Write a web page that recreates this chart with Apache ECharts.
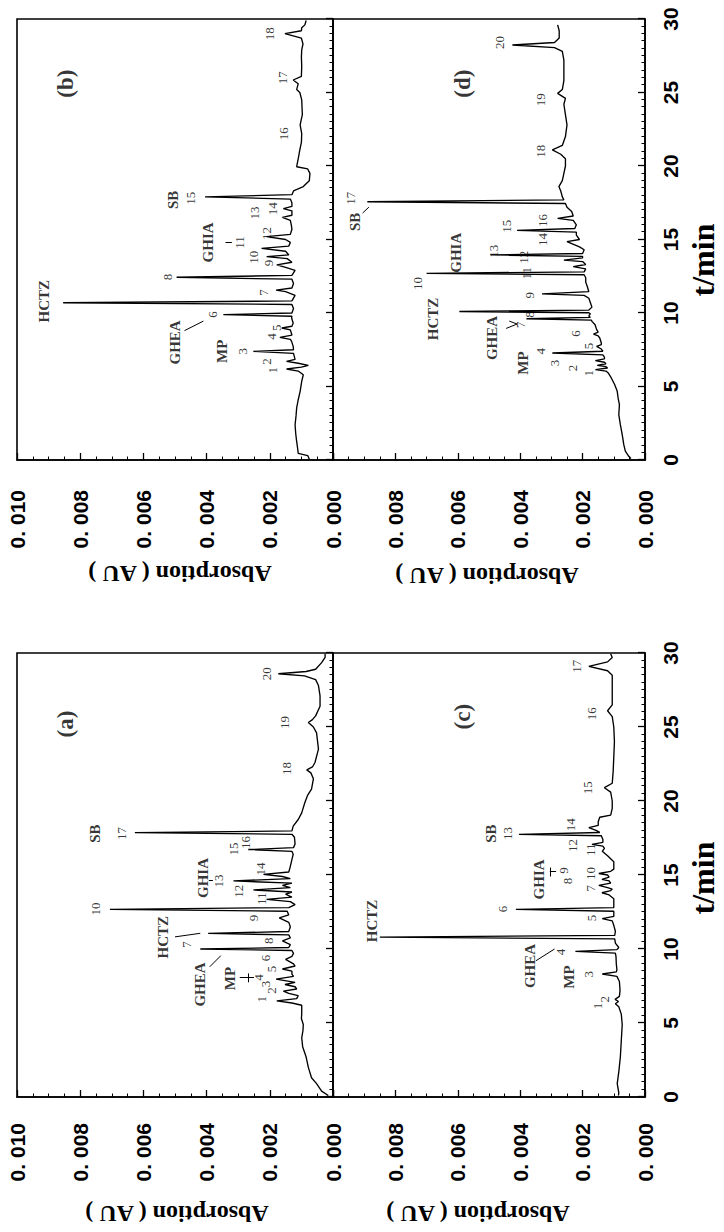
<!DOCTYPE html>
<html><head><meta charset="utf-8">
<script src="https://cdn.jsdelivr.net/npm/echarts@6/dist/echarts.min.js"></script>
<style>
html,body{margin:0;padding:0;background:#fff;overflow:hidden;width:724px;height:1232px;}
#chart{position:absolute;left:0;top:0;width:1232px;height:724px;transform-origin:0 0;transform:translate(0px,1232px) rotate(-90deg);}
</style></head><body><div id="chart"></div>
<script>
// ---------- tick labels ----------
const valueTickLabels = ['0. 000','0. 002','0. 004','0. 006','0. 008','0. 010'];
const timeTickLabels = ['0','5','10','15','20','25','30'];

// ---------- traces: [time (min), absorption (x 0.001 AU)] ----------
const traceA = [[0.1,0.15],[0.4,0.36],[0.9,0.52],[1.3,0.68],[2.0,0.78],[2.7,0.85],[3.4,0.96],[4.0,0.99],[4.5,0.95],[4.9,0.94],[5.3,1.0],[5.6,0.99],[6.2,0.99],[6.35,1.3],[6.5,1.78],[6.65,1.15],[6.85,1.1],[7.0,1.4],[7.15,1.57],[7.3,1.15],[7.45,1.2],[7.6,1.52],[7.75,1.2],[7.97,1.8],[8.15,1.25],[8.3,1.3],[8.5,1.3],[8.65,1.6],[8.85,1.2],[9.0,1.25],[9.3,1.5],[9.5,1.3],[9.7,1.25],[9.9,1.3],[10.0,4.2],[10.1,1.4],[10.3,1.35],[10.55,1.6],[10.75,1.35],[10.95,1.4],[11.06,3.95],[11.18,1.4],[11.5,1.35],[11.8,1.4],[12.1,1.7],[12.3,1.4],[12.55,1.45],[12.68,7.06],[12.8,1.4],[13.0,1.2],[13.2,1.35],[13.35,2.1],[13.5,1.3],[13.7,1.5],[13.85,1.3],[13.99,2.52],[14.15,1.35],[14.3,1.6],[14.45,1.3],[14.6,3.15],[14.75,1.35],[14.9,1.6],[15.04,2.2],[15.2,1.4],[15.5,1.36],[15.95,1.31],[16.4,1.26],[16.6,1.3],[16.72,2.68],[16.85,1.25],[17.1,1.2],[17.55,1.22],[17.75,1.3],[17.86,6.27],[17.98,1.3],[18.3,1.26],[18.75,1.1],[19.2,0.99],[19.9,0.89],[20.4,0.8],[20.8,0.68],[21.5,0.62],[21.9,0.7],[22.1,0.83],[22.3,0.65],[22.6,0.57],[23.5,0.46],[24.6,0.52],[25.0,0.62],[25.3,0.78],[25.5,0.65],[25.75,0.55],[26.4,0.41],[27.1,0.41],[27.8,0.46],[28.2,0.55],[28.45,0.9],[28.6,1.73],[28.75,0.85],[28.9,0.55],[29.35,0.36],[29.7,0.25],[29.95,0.25]];

const traceB = [[0.05,0.75],[0.3,0.8],[0.45,1.1],[0.8,1.12],[1.27,1.15],[1.8,1.18],[2.4,1.2],[3.0,1.17],[3.54,1.15],[4.1,1.1],[4.67,1.04],[5.35,0.99],[5.8,0.94],[6.05,1.1],[6.19,1.47],[6.32,1.0],[6.44,0.78],[6.58,1.1],[6.71,1.47],[6.85,1.2],[7.25,1.25],[7.39,2.52],[7.5,1.25],[7.73,1.26],[8.07,1.31],[8.2,1.35],[8.34,1.68],[8.5,1.3],[8.85,1.35],[8.98,1.62],[9.1,1.3],[9.32,1.26],[9.66,1.31],[9.78,1.3],[9.89,3.47],[10.0,1.3],[10.3,1.25],[10.58,1.3],[10.7,8.54],[10.82,1.3],[11.2,1.2],[11.45,1.5],[11.56,1.8],[11.7,1.3],[12.0,1.25],[12.3,1.3],[12.43,4.95],[12.56,1.3],[12.9,1.2],[13.1,1.5],[13.27,1.78],[13.45,1.3],[13.7,1.45],[13.83,2.1],[13.95,1.4],[14.2,1.5],[14.4,2.26],[14.55,1.4],[14.8,1.35],[15.0,1.5],[15.2,2.1],[15.35,1.35],[15.7,1.3],[16.0,1.32],[16.3,1.35],[16.5,1.6],[16.65,1.3],[16.95,1.3],[17.1,1.57],[17.25,1.3],[17.5,1.3],[17.75,1.35],[17.9,4.05],[18.05,1.3],[18.3,1.25],[18.6,0.94],[19.0,0.75],[19.5,0.73],[19.8,0.8],[19.95,1.15],[20.5,1.1],[21.1,1.05],[21.6,1.0],[22.2,0.99],[22.8,1.04],[23.5,0.97],[24.0,0.98],[24.5,0.99],[25.0,1.05],[25.2,1.15],[25.6,1.1],[25.85,1.26],[26.1,1.0],[26.8,0.99],[27.4,1.0],[27.9,0.99],[28.3,0.95],[28.7,1.0],[29.0,1.52],[29.2,1.0],[29.4,0.99],[29.6,0.89],[29.9,0.85]];

const traceC = [[0.1,0.85],[0.3,0.84],[0.9,0.89],[1.7,0.84],[2.7,0.79],[3.8,0.76],[4.9,0.73],[5.6,0.76],[6.1,0.84],[6.3,0.95],[6.45,0.85],[6.6,0.96],[6.8,0.82],[7.2,0.8],[7.8,0.82],[8.15,0.9],[8.31,1.37],[8.45,0.92],[8.6,0.9],[9.0,0.92],[9.5,0.93],[9.72,0.95],[9.84,2.23],[9.96,0.9],[10.1,0.84],[10.4,0.95],[10.68,0.97],[10.8,8.5],[10.92,0.97],[11.2,0.95],[11.6,1.0],[11.9,1.05],[12.05,1.37],[12.2,1.0],[12.55,1.0],[12.68,4.14],[12.8,1.0],[13.1,1.0],[13.4,1.0],[13.65,1.15],[13.8,1.38],[13.95,1.1],[14.05,1.05],[14.15,1.2],[14.3,1.48],[14.45,1.1],[14.6,1.15],[14.7,1.38],[14.85,1.15],[15.0,1.2],[15.1,1.48],[15.25,1.1],[15.4,1.0],[15.9,1.0],[16.3,1.2],[16.6,1.37],[16.8,1.3],[16.95,1.35],[17.07,1.7],[17.2,1.35],[17.4,1.35],[17.65,1.4],[17.75,4.04],[17.87,1.45],[18.0,1.55],[18.2,1.8],[18.35,1.5],[18.6,1.5],[18.9,1.45],[19.05,1.1],[19.5,1.05],[20.0,1.05],[20.6,1.1],[20.9,1.3],[21.2,1.05],[22.0,1.02],[23.0,1.0],[24.0,0.98],[25.0,1.0],[25.7,1.05],[26.1,1.2],[26.5,1.05],[27.5,1.05],[28.5,1.05],[28.8,1.2],[29.1,1.8],[29.4,1.2],[29.7,1.05],[29.95,1.1]];

const traceD = [[0.1,0.45],[0.25,0.52],[0.6,0.63],[1.04,0.68],[1.72,0.73],[2.4,0.79],[3.08,0.84],[3.76,0.82],[4.2,0.86],[4.67,0.89],[5.12,0.97],[5.58,1.08],[5.92,1.18],[6.05,1.25],[6.15,1.59],[6.26,1.2],[6.35,1.25],[6.44,1.53],[6.55,1.25],[6.65,1.3],[6.76,1.59],[6.88,1.3],[7.0,1.3],[7.15,1.35],[7.28,2.97],[7.4,1.35],[7.55,1.4],[7.73,1.55],[7.85,1.4],[7.96,1.4],[8.3,1.45],[8.45,1.5],[8.57,1.65],[8.7,1.5],[8.87,1.55],[9.2,1.6],[9.43,1.7],[9.52,1.72],[9.61,3.8],[9.7,1.75],[9.8,1.8],[9.95,1.75],[10.02,1.8],[10.1,5.95],[10.2,1.8],[10.4,1.7],[10.7,1.75],[11.0,1.8],[11.2,1.95],[11.3,3.3],[11.45,1.8],[11.8,1.85],[12.1,1.9],[12.4,1.9],[12.6,1.95],[12.7,7.0],[12.8,1.95],[13.0,1.9],[13.15,2.3],[13.3,1.9],[13.5,2.0],[13.6,2.6],[13.75,2.0],[13.85,2.0],[13.95,4.95],[14.05,2.0],[14.3,1.95],[14.5,2.1],[14.85,2.5],[15.0,2.1],[15.3,2.2],[15.5,2.2],[15.62,4.1],[15.75,2.25],[16.0,2.2],[16.3,2.3],[16.44,2.8],[16.6,2.3],[16.9,2.35],[17.2,2.5],[17.45,2.55],[17.57,8.9],[17.7,2.6],[17.9,2.65],[18.3,2.7],[18.6,2.76],[19.0,2.65],[19.5,2.6],[20.0,2.55],[20.5,2.55],[20.8,2.7],[21.1,2.97],[21.4,2.65],[22.0,2.55],[22.8,2.5],[23.5,2.55],[24.2,2.6],[24.6,2.55],[24.94,2.8],[25.2,2.65],[25.8,2.6],[26.5,2.6],[27.2,2.6],[27.8,2.65],[28.05,2.9],[28.23,4.25],[28.4,2.9],[28.7,2.75],[29.2,2.75],[29.6,2.8]];

// ---------- peak numbers [time, absorption, text] ----------
const numsA = [[6.6,2.25,'1'],[7.2,1.95,'2'],[7.63,2.15,'3'],[8.08,2.35,'4'],[8.65,1.95,'5'],[9.4,2.15,'6'],[10.3,4.65,'7'],[10.55,2.05,'8'],[12.1,2.53,'9'],[12.7,7.53,'10'],[13.4,2.25,'11'],[13.9,3.0,'12'],[14.6,3.63,'13'],[15.4,2.31,'14'],[16.75,3.16,'15'],[17.2,2.78,'16'],[17.8,6.68,'17'],[22.2,1.46,'18'],[25.3,1.52,'19'],[28.6,2.09,'20']];
const numsB = [[6.1,1.9,'1'],[6.7,2.1,'2'],[7.4,2.85,'3'],[8.4,1.95,'4'],[9.0,1.8,'5'],[9.9,3.8,'6'],[11.4,2.2,'7'],[12.45,5.25,'8'],[13.4,2.05,'9'],[13.8,2.53,'10'],[14.8,2.95,'11'],[15.4,2.09,'12'],[16.8,2.47,'13'],[17.1,1.9,'14'],[17.8,4.5,'15'],[22.2,1.58,'16'],[26.0,1.6,'17'],[29.0,2.0,'18']];
const numsC = [[6.15,1.53,'1'],[6.6,1.3,'2'],[8.3,1.8,'3'],[9.8,2.7,'4'],[12.1,1.7,'5'],[12.7,4.57,'6'],[14.1,1.75,'7'],[14.6,2.5,'8'],[15.3,2.6,'9'],[15.1,1.75,'10'],[16.7,1.75,'11'],[17.0,2.33,'12'],[17.8,4.4,'13'],[18.4,2.4,'14'],[20.9,1.85,'15'],[25.9,1.7,'16'],[29.1,2.2,'17']];
const numsD = [[5.9,1.8,'1'],[6.26,2.33,'2'],[6.6,2.9,'3'],[7.4,3.35,'4'],[7.76,1.8,'5'],[8.6,2.24,'6'],[9.2,4.0,'7'],[9.9,3.7,'8'],[11.2,3.7,'9'],[12.0,7.3,'10'],[12.7,3.8,'11'],[13.8,3.9,'12'],[14.2,4.85,'13'],[15.0,3.3,'14'],[15.9,4.45,'15'],[16.3,3.3,'16'],[17.8,9.45,'17'],[21.0,3.35,'18'],[24.5,3.35,'19'],[28.4,4.66,'20']];

// ---------- compound names [time, absorption, text] ----------
const namesA = [[10.8,5.38,'HCTZ'],[7.6,4.2,'GHEA'],[8.0,3.26,'MP'],[14.8,4.1,'GHIA'],[17.8,7.53,'SB']];
const namesB = [[10.8,9.15,'HCTZ'],[8.0,5.0,'GHEA'],[7.4,3.5,'MP'],[14.8,3.95,'GHIA'],[17.7,5.06,'SB']];
const namesC = [[11.9,8.75,'HCTZ'],[8.85,3.7,'GHEA'],[8.1,2.44,'MP'],[14.7,3.4,'GHIA'],[17.8,4.95,'SB']];
const namesD = [[9.6,6.8,'HCTZ'],[8.3,4.9,'GHEA'],[6.6,3.9,'MP'],[14.1,6.07,'GHIA'],[16.2,9.3,'SB']];

// ---------- panel tags ----------
const tagA = [[25.2,8.48,'(a)']];
const tagB = [[25.6,8.48,'(b)']];
const tagC = [[25.7,5.85,'(c)']];
const tagD = [[25.6,5.85,'(d)']];

// ---------- leader lines [[t1,v1],[t2,v2]] ----------
const ptrA = [[[10.82,5.0],[11.06,4.2]],[[8.8,3.9],[9.55,3.55]],[[8.05,2.95],[8.05,2.5]],[[7.75,2.68],[8.35,2.68]],[[14.6,3.93],[14.6,3.8]]];
const ptrB = [[[8.8,4.7],[9.45,4.1]],[[14.8,3.4],[14.8,3.2]]];
const ptrC = [[[9.2,3.5],[10.0,2.9]],[[15.2,3.05],[15.2,2.85]],[[14.9,3.05],[15.5,3.05]]];
const ptrD = [[[8.95,4.45],[9.25,4.1]],[[9.25,4.1],[9.45,4.35]],[[16.8,9.05],[17.2,8.85]]];

const SERIF = '"Liberation Serif","Times New Roman",serif';
const SANS = '"Liberation Sans Narrow","Liberation Sans",Arial,sans-serif';

const panels = [
  {grid:{left:135,top:17,width:444,height:316}, trace:traceA, nums:numsA, names:namesA, tag:tagA, ptr:ptrA, xLabels:false, bottom:false, yMargin:26},
  {grid:{left:135,top:333,width:444,height:312}, trace:traceC, nums:numsC, names:namesC, tag:tagC, ptr:ptrC, xLabels:true, bottom:true, yMargin:26},
  {grid:{left:772,top:17,width:441,height:316}, trace:traceB, nums:numsB, names:namesB, tag:tagB, ptr:ptrB, xLabels:false, bottom:false, yMargin:30},
  {grid:{left:772,top:333,width:441,height:312}, trace:traceD, nums:numsD, names:namesD, tag:tagD, ptr:ptrD, xLabels:true, bottom:true, yMargin:30}
];

const grids = [], xAxes = [], yAxes = [], series = [];
panels.forEach((p, i) => {
  grids.push(Object.assign({show:true, borderColor:'#000', borderWidth:1.6, backgroundColor:'transparent', containLabel:false}, p.grid));
  xAxes.push({
    type:'value', gridIndex:i, min:0, max:30, interval:5,
    axisLine:{show:true, onZero:false, lineStyle:{color:'#000', width:1.6}},
    axisTick:{show:true, inside:true, length:7, lineStyle:{color:'#000', width:1.3}},
    minorTick:{show:true, splitNumber:10, length:3.5, lineStyle:{color:'#000', width:1}},
    splitLine:{show:false},
    axisLabel:{show:p.xLabels, margin:15, color:'#000', fontFamily:SANS, fontWeight:'bold', fontSize:21,
      showMinLabel:true, showMaxLabel:true,
      formatter:(v)=>timeTickLabels[Math.round(v/5)]}
  });
  yAxes.push({
    type:'value', gridIndex:i, min:0, max:10, interval:2,
    axisLine:{show:true, onZero:false, lineStyle:{color:'#000', width:1.6}},
    axisTick:{show:true, inside:true, length:7, lineStyle:{color:'#000', width:1.3}},
    minorTick:{show:true, splitNumber:4, length:3.5, lineStyle:{color:'#000', width:1}},
    splitLine:{show:false},
    axisLabel:{show:true, margin:p.yMargin, color:'#000', fontFamily:SANS, fontWeight:'bold', fontSize:21,
      showMinLabel:true, showMaxLabel:true,
      formatter:(v)=> (p.bottom && v >= 10) ? '' : valueTickLabels[Math.round(v/2)]}
  });
  series.push({
    type:'line', xAxisIndex:i, yAxisIndex:i, data:p.trace, showSymbol:false, symbol:'none',
    lineStyle:{color:'#000', width:1.35}, silent:true, z:3
  });
  const lab = (arr, font) => ({
    type:'scatter', xAxisIndex:i, yAxisIndex:i, data:arr, symbol:'circle', symbolSize:1,
    itemStyle:{color:'transparent'}, silent:true, z:5,
    label:Object.assign({show:true, position:'inside', color:'#000', formatter:(q)=>q.data[2]}, font)
  });
  series.push(lab(p.nums, {fontFamily:SERIF, fontSize:13}));
  series.push(lab(p.names, {fontFamily:SERIF, fontSize:15, fontWeight:'bold'}));
  series.push(lab(p.tag, {fontFamily:SERIF, fontSize:23, fontWeight:'bold'}));
  series.push({
    type:'lines', coordinateSystem:'cartesian2d', xAxisIndex:i, yAxisIndex:i, polyline:false,
    data:p.ptr.map(c=>({coords:c})), lineStyle:{color:'#000', width:1, opacity:1}, silent:true, z:4
  });
});

const titleFont = 'bold 24px "Liberation Serif","Times New Roman",serif';
const tminFont = 'bold 32px "Liberation Serif","Times New Roman",serif';
const graphic = [
  {type:'text', x:18, y:177, rotation:Math.PI/2, style:{text:'Absorption ( AU )', font:titleFont, fill:'#000', textAlign:'center', textVerticalAlign:'middle'}},
  {type:'text', x:18, y:478, rotation:Math.PI/2, style:{text:'Absorption ( AU )', font:titleFont, fill:'#000', textAlign:'center', textVerticalAlign:'middle'}},
  {type:'text', x:658, y:180, rotation:Math.PI/2, style:{text:'Absorption ( AU )', font:titleFont, fill:'#000', textAlign:'center', textVerticalAlign:'middle'}},
  {type:'text', x:656, y:487, rotation:Math.PI/2, style:{text:'Absorption ( AU )', font:titleFont, fill:'#000', textAlign:'center', textVerticalAlign:'middle'}},
  {type:'text', x:354, y:703, style:{text:'t/min', font:tminFont, fill:'#000', textAlign:'center', textVerticalAlign:'middle'}},
  {type:'text', x:972, y:703, style:{text:'t/min', font:tminFont, fill:'#000', textAlign:'center', textVerticalAlign:'middle'}}
];

const chart = echarts.init(document.getElementById('chart'), null, {renderer:'svg', width:1232, height:724});
chart.setOption({
  animation:false,
  backgroundColor:'#fff',
  grid:grids, xAxis:xAxes, yAxis:yAxes, series:series, graphic:graphic
});
</script></body></html>
